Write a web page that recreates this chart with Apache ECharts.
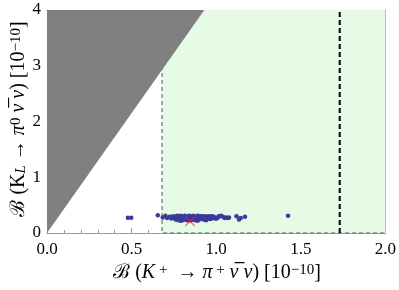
<!DOCTYPE html>
<html><head><meta charset="utf-8">
<script src="https://cdn.jsdelivr.net/npm/echarts@6/dist/echarts.min.js"></script>
<style>html,body{margin:0;padding:0;background:#fff}#c{width:399px;height:290px}</style>
</head><body><div id="c"></div>
<script>
var xTicks = [0, 0.5, 1.0, 1.5, 2.0];
var yTicks = [0, 1, 2, 3, 4];
var greenRegion = [[0.68, 0], [2.0, 0], [2.0, 4], [0.68, 4]];
var greenBorder = [[0.68, 4], [0.68, 0], [2.0, 0]];
var greyRegion = [[0, 0], [0, 4], [0.93, 4]];
var boundLine = [[1.73, 0], [1.73, 4]];
var smPoint = [[0.845, 0.21]];
var scanPoints = [
[0.478,0.275],[0.498,0.275],
[0.655,0.32],[0.684,0.28],[0.70,0.31],[0.71,0.27],[0.725,0.29],[0.735,0.26],[0.745,0.30],
[0.755,0.27],[0.76,0.24],[0.765,0.30],[0.77,0.26],[0.775,0.23],[0.78,0.29],[0.785,0.25],[0.79,0.31],
[0.795,0.27],[0.80,0.23],[0.805,0.29],[0.81,0.25],[0.815,0.31],[0.82,0.27],[0.825,0.23],[0.83,0.29],
[0.835,0.25],[0.84,0.31],[0.845,0.27],[0.85,0.23],[0.855,0.29],[0.86,0.25],[0.865,0.31],[0.87,0.27],
[0.875,0.23],[0.88,0.29],[0.885,0.25],[0.89,0.31],[0.895,0.27],[0.90,0.24],[0.905,0.29],[0.91,0.26],
[0.915,0.30],[0.92,0.27],[0.925,0.24],[0.93,0.29],[0.935,0.26],[0.94,0.30],[0.945,0.27],[0.95,0.25],
[0.955,0.29],[0.96,0.27],[0.965,0.25],[0.97,0.28],
[0.76,0.28],[0.77,0.31],[0.78,0.25],[0.79,0.22],[0.80,0.28],[0.81,0.30],[0.82,0.24],[0.83,0.26],
[0.84,0.23],[0.85,0.30],[0.86,0.28],[0.87,0.24],[0.88,0.26],[0.89,0.22],[0.90,0.30],[0.91,0.28],
[0.92,0.30],[0.93,0.25],[0.94,0.23],[0.95,0.28],[0.96,0.30],[0.97,0.26],[0.975,0.30],
[0.98,0.27],[0.99,0.28],[1.0,0.26],[1.01,0.28],[1.02,0.30],[1.03,0.31],[1.04,0.29],[1.05,0.27],
[1.06,0.28],[1.07,0.27],[1.076,0.28],[0.985,0.29],[0.995,0.26],[1.005,0.27],[1.015,0.30],
[1.12,0.30],[1.135,0.24],[1.145,0.27],[1.17,0.29],[1.425,0.31]
];

var FONT = '"Liberation Serif","DejaVu Serif",serif';
var frameColor = '#9a9a9a';

function polySeries(pts, fill, z) {
  return {
    type: 'custom', coordinateSystem: 'cartesian2d', z: z, silent: true,
    data: [0],
    renderItem: function (params, api) {
      var p = pts.map(function (d) { return api.coord(d); });
      return {type: 'polygon', shape: {points: p}, style: {fill: fill}};
    }
  };
}

function axisCommon(show) {
  return {
    min: 0, axisLine: {show: true, onZero: false, lineStyle: {color: frameColor, width: 1}},
    axisTick: {show: true, inside: true, length: 5, lineStyle: {color: frameColor}},
    minorTick: {show: true, splitNumber: 5, length: 3, lineStyle: {color: frameColor}},
    splitLine: {show: false},
    axisLabel: {show: show, color: '#000', fontFamily: FONT, fontSize: 17}
  };
}

var xB = Object.assign(axisCommon(true), {type: 'value', position: 'bottom', max: 2, interval: 0.5});
xB.axisLabel.formatter = function (v) { return v.toFixed(1); };
xB.axisLabel.margin = 8;
var xT = Object.assign(axisCommon(false), {type: 'value', position: 'top', max: 2, interval: 0.5});
var yL = Object.assign(axisCommon(true), {type: 'value', position: 'left', max: 4, interval: 1});
yL.axisLabel.margin = 6;
var yR = Object.assign(axisCommon(false), {type: 'value', position: 'right', max: 4, interval: 1});

var chart = echarts.init(document.getElementById('c'), null, {renderer: 'canvas'});
var richT = {
  b: {fontFamily: FONT, fontSize: 20, fill: '#000'},
  m: {fontFamily: FONT, fontSize: 20, fill: '#000'},
  i: {fontFamily: FONT, fontSize: 20, fontStyle: 'italic', fill: '#000'},
  sup: {fontFamily: FONT, fontSize: 15, verticalAlign: 'top', fill: '#000'},
  sub: {fontFamily: FONT, fontSize: 15, fontStyle: 'italic', verticalAlign: 'bottom', fill: '#000'}
};
chart.setOption({
  animation: false,
  grid: {left: 47, right: 12, top: 10, bottom: 57},
  xAxis: [xB, xT],
  yAxis: [yL, yR],
  series: [
    polySeries(greenRegion, '#e6fbe6', 1),
    {type: 'line', data: greenBorder, symbol: 'none', z: 1.5, silent: true,
     lineStyle: {color: '#555', width: 1, type: [4, 3]}},
    polySeries(greyRegion, '#808080', 2),
    {type: 'line', data: boundLine, symbol: 'none', z: 3, silent: true,
     lineStyle: {color: '#000', width: 2, type: [5, 3]}},
    {type: 'scatter', data: scanPoints, symbol: 'circle', symbolSize: 4.5, z: 4,
     itemStyle: {color: '#3a3a9c', opacity: 1}},
    {type: 'scatter', data: smPoint, z: 5, symbolSize: 10,
     symbol: 'path://M0,0.7L0.7,0L5,4.3L9.3,0L10,0.7L5.7,5L10,9.3L9.3,10L5,5.7L0.7,10L0,9.3L4.3,5Z',
     itemStyle: {color: '#ff1a1a'}}
  ],
  graphic: [
    {type: 'text', x: 217, y: 273, z: 10,
     style: {text: '{b|ℬ}{m| (}{i|K}{sup| +}{m|  → }{i|π}{sup| +}{i| ν̅ ν}{m|) [10}{sup|−10}{m|]}',
       rich: richT, align: 'center', verticalAlign: 'middle', fill: '#000', fontSize: 20, fontFamily: FONT}},
    {type: 'text', x: 19, y: 119, rotation: Math.PI / 2, z: 10,
     style: {text: '{b|ℬ}{m| (K}{sub|L}{m| → }{i|π}{sup|0}{i| ν̅ ν}{m|) [10}{sup|−10}{m|]}',
       rich: richT, align: 'center', verticalAlign: 'middle', fill: '#000', fontSize: 20, fontFamily: FONT}}
  ]
});
</script></body></html>
